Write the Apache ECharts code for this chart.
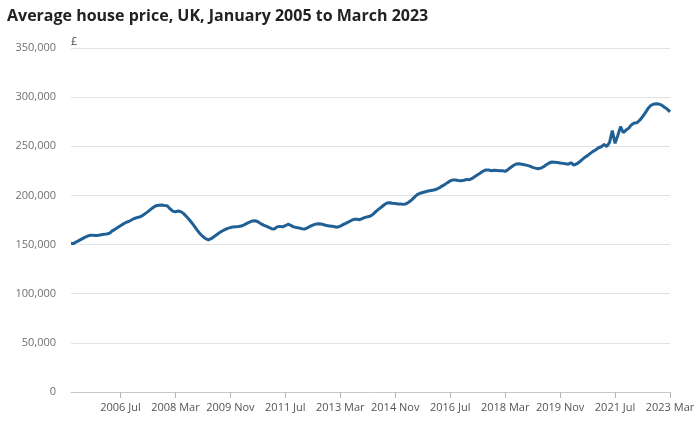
<!DOCTYPE html>
<html>
<head>
<meta charset="utf-8">
<script src="https://cdn.jsdelivr.net/npm/echarts@6/dist/echarts.min.js"></script>
<style>html,body{margin:0;padding:0;background:#fff}#c{width:699px;height:425px}</style>
</head>
<body>
<div id="c"></div>
<script>
const titleText = 'Average house price, UK, January 2005 to March 2023';
const yUnit = '£';
const startYear = 2005;
const monthNames = ['Jan','Feb','Mar','Apr','May','Jun','Jul','Aug','Sep','Oct','Nov','Dec'];
const tickLabels = ['2006 Jul','2008 Mar','2009 Nov','2011 Jul','2013 Mar','2014 Nov','2016 Jul','2018 Mar','2019 Nov','2021 Jul','2023 Mar'];
const yTicks = [0, 50000, 100000, 150000, 200000, 250000, 300000, 350000];

// Monthly average price (£), one array per year
const p2005 = [151000,151200,152800,154300,155800,157300,158600,159500,159600,159300,159500,160000];
const p2006 = [160400,160700,161500,164000,165500,167300,169200,171000,172500,173500,175000,176500];
const p2007 = [177500,178000,179500,181500,183500,185800,188000,189600,190000,190200,189800,189500];
const p2008 = [186500,184000,183300,184200,183500,181500,178500,175500,172000,168300,164500,160800];
const p2009 = [158200,156000,154800,156000,158000,160000,162000,163800,165200,166500,167300,168000];
const p2010 = [168200,168300,168800,170000,171500,172800,174000,174200,173300,171500,169800,168800];
const p2011 = [167500,166200,165800,168000,168500,168000,169200,170700,169500,168000,167300,166800];
const p2012 = [166200,165700,167000,168500,169800,170800,171200,171000,170200,169300,169000,168700];
const p2013 = [168200,167700,168800,170300,171600,173000,174500,175700,175800,175300,176500,177700];
const p2014 = [178300,179000,181000,183800,186000,188200,190500,192300,192500,192000,191800,191300];
const p2015 = [191200,190900,191600,193300,195500,198300,200800,202200,203000,203800,204500,205000];
const p2016 = [205500,206300,207600,209500,211000,213000,214800,215800,215600,215200,215000,215400];
const p2017 = [216300,216000,217300,219200,221000,222800,224800,226000,225800,225200,225600,225300];
const p2018 = [225000,225200,224500,226200,228500,230500,232000,232200,231800,231300,230600,229800];
const p2019 = [228600,227800,227200,227800,229200,231300,233000,234000,233800,233400,233000,232600];
const p2020 = [232200,231800,233300,230800,232000,234000,236500,238800,240500,242800,244800,246500];
const p2021 = [248500,249500,252000,249800,254000,266000,253000,261000,270000,264000,266500,268500];
const p2022 = [272000,273800,274000,276500,280000,284000,288500,291500,292800,293300,293000,291800];
const p2023 = [289800,287800,285000];

const yearly = [p2005,p2006,p2007,p2008,p2009,p2010,p2011,p2012,p2013,p2014,p2015,p2016,p2017,p2018,p2019,p2020,p2021,p2022,p2023];
const categories = [];
const values = [];
yearly.forEach((arr, yi) => {
  arr.forEach((v, mi) => {
    categories.push((startYear + yi) + ' ' + monthNames[mi]);
    values.push(v);
  });
});

const font = '"Open Sans", "Noto Sans", sans-serif';
const chart = echarts.init(document.getElementById('c'), null, {renderer: 'canvas'});
const showTick = (idx, val) => tickLabels.indexOf(val) >= 0;
chart.setOption({
  animation: false,
  backgroundColor: '#fff',
  title: {
    text: titleText,
    left: 2, top: 3,
    textStyle: {fontFamily: font, fontSize: 16, fontWeight: 'bold', color: '#222222'}
  },
  grid: {left: 71, right: 29, top: 48, bottom: 33, containLabel: false},
  xAxis: {
    type: 'category',
    data: categories,
    boundaryGap: false,
    axisLine: {show: true, lineStyle: {color: '#c8c8c8', width: 1}},
    axisTick: {show: true, interval: showTick, length: 6, lineStyle: {color: '#b8b8b8', width: 1}},
    axisLabel: {interval: showTick, color: '#555555', fontFamily: font, fontSize: 11, margin: 10, hideOverlap: false},
    splitLine: {show: false}
  },
  yAxis: {
    type: 'value',
    min: yTicks[0], max: yTicks[yTicks.length - 1], interval: yTicks[1] - yTicks[0],
    name: yUnit,
    nameLocation: 'end',
    nameGap: 1,
    nameTextStyle: {align: 'left', color: '#444444', fontFamily: font, fontSize: 11},
    axisLine: {show: false},
    axisTick: {show: false},
    axisLabel: {
      color: '#707070', fontFamily: font, fontSize: 11, margin: 15,
      formatter: v => v.toLocaleString('en-GB')
    },
    splitLine: {lineStyle: {color: '#e2e2e2', width: 1}}
  },
  series: [{
    type: 'line',
    data: values,
    symbol: 'none',
    smooth: false,
    lineStyle: {color: '#206095', width: 3},
    itemStyle: {color: '#206095'}
  }]
});
</script>
</body>
</html>
